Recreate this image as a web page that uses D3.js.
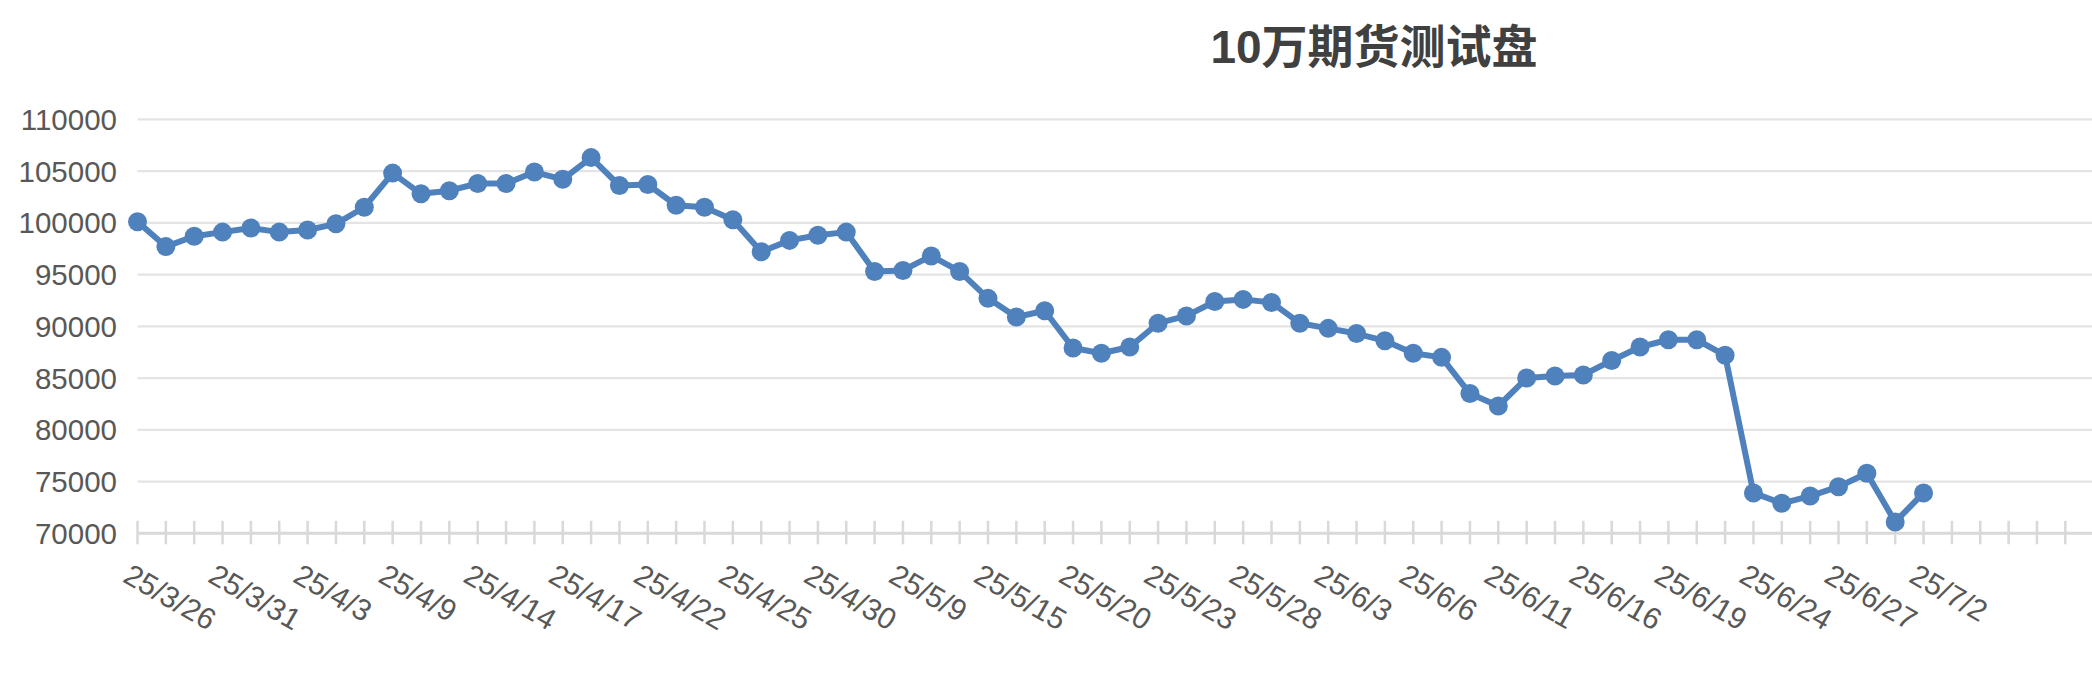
<!DOCTYPE html>
<html>
<head>
<meta charset="utf-8">
<script src="https://cdn.jsdelivr.net/npm/d3@7/dist/d3.min.js"></script>
<style>
  html, body { margin: 0; padding: 0; background: #ffffff; }
  svg { display: block; }
</style>
</head>
<body>
<svg id="chart" width="2092" height="676"></svg>
<script>
// ---- data ----
const title = "10万期货测试盘";
const tickLabels = ["25/3/26","25/3/31","25/4/3","25/4/9","25/4/14","25/4/17","25/4/22","25/4/25",
  "25/4/30","25/5/9","25/5/15","25/5/20","25/5/23","25/5/28","25/6/3","25/6/6","25/6/11",
  "25/6/16","25/6/19","25/6/24","25/6/27","25/7/2"];
const labelEvery = 3;          // one label every 3 categories
const slotCount = 70;          // category slots shown on the axis (last ones empty)
const values = [
  100100, 97700, 98700, 99100, 99500, 99100, 99300, 99900, 101500, 104800,
  102800, 103100, 103800, 103800, 104900, 104200, 106300, 103600, 103700, 101700,
  101500, 100300, 97200, 98300, 98800, 99100, 95300, 95400, 96800, 95300,
  92700, 90900, 91500, 87900, 87400, 88000, 90300, 91000, 92400, 92600,
  92300, 90300, 89800, 89300, 88600, 87400, 87000, 83500, 82300, 85000,
  85200, 85300, 86700, 88000, 88700, 88700, 87200, 73900, 72900, 73600,
  74500, 75800, 71100, 73900
];
const yTicks = [70000, 75000, 80000, 85000, 90000, 95000, 100000, 105000, 110000];

// ---- layout ----
const plotLeft = 137.5, step = 28.35;
const svg = d3.select("#chart");
const categories = d3.range(slotCount);
const x = d3.scalePoint().domain(categories).range([plotLeft, plotLeft + step * (slotCount - 1)]);
const y = d3.scaleLinear().domain([70000, 110000]).range([533.3, 119.3]);
const font = "'Liberation Sans', Arial, 'Noto Sans CJK SC', sans-serif";

// gridlines
svg.append("g").selectAll("line").data(yTicks.filter(d => d > 70000)).join("line")
  .attr("x1", plotLeft).attr("x2", x(slotCount - 1))
  .attr("y1", d => y(d)).attr("y2", d => y(d))
  .attr("stroke", "#e4e4e4").attr("stroke-width", 2.2);

// y labels
svg.append("g").selectAll("text").data(yTicks).join("text")
  .attr("x", 117).attr("y", d => y(d)).attr("dy", "0.36em")
  .attr("text-anchor", "end")
  .attr("font-family", font).attr("font-size", 29.5).attr("fill", "#585858")
  .text(d => d);

// x axis line + ticks
svg.append("line")
  .attr("x1", plotLeft).attr("x2", x(slotCount - 1))
  .attr("y1", y(70000)).attr("y2", y(70000))
  .attr("stroke", "#d9d9d9").attr("stroke-width", 3);
svg.append("g").selectAll("line").data(categories).join("line")
  .attr("x1", d => x(d)).attr("x2", d => x(d))
  .attr("y1", y(70000) - 12.5).attr("y2", y(70000) + 11)
  .attr("stroke", "#d9d9d9").attr("stroke-width", 2.5);

// x labels
svg.append("g").selectAll("text").data(tickLabels).join("text")
  .attr("transform", (d, i) => `translate(${x(i * labelEvery) - 16},581) rotate(30)`)
  .attr("text-anchor", "start")
  .attr("font-family", font).attr("font-size", 30).attr("fill", "#585858")
  .text(d => d);

// line
const blue = "#4f81bd";
svg.append("path").datum(values)
  .attr("fill", "none").attr("stroke", blue).attr("stroke-width", 6)
  .attr("stroke-linejoin", "round")
  .attr("d", d3.line().x((d, i) => x(i)).y(d => y(d)));

svg.append("g").selectAll("circle").data(values).join("circle")
  .attr("cx", (d, i) => x(i)).attr("cy", d => y(d)).attr("r", 9.5)
  .attr("fill", blue);

// title
svg.append("text")
  .attr("x", 1374).attr("y", 63).attr("text-anchor", "middle")
  .attr("font-family", "'Liberation Sans', Arial, 'Noto Sans CJK SC', sans-serif")
  .attr("font-weight", "bold").attr("font-size", 46).attr("fill", "#404040")
  .text(title);
</script>
</body>
</html>
